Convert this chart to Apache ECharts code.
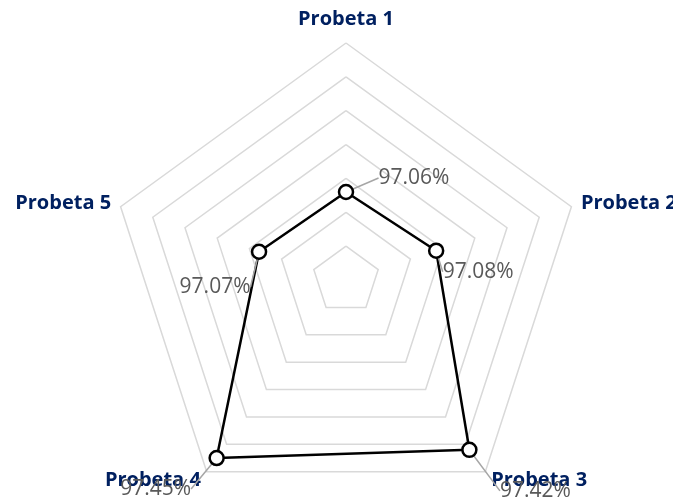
<!DOCTYPE html>
<html>
<head>
<meta charset="utf-8">
<script src="https://cdn.jsdelivr.net/npm/echarts@6/dist/echarts.min.js"></script>
<style>
  html, body { margin: 0; padding: 0; background: #fff; }
  #chart { width: 673px; height: 500px; }
</style>
</head>
<body>
<div id="chart"></div>
<script>
// datos
var categories = ['Probeta 1', 'Probeta 2', 'Probeta 3', 'Probeta 4', 'Probeta 5']
var values = [97.06, 97.08, 97.42, 97.45, 97.07]
var axisMin = 96.8
var axisMax = 97.5

// desplazamiento de etiquetas [dx, dy] respecto al punto
var labelShift = [[68, -14], [42, 21], [66, 41], [-61, 31], [-44, 35]]

// echarts va en sentido antihorario -> reordenar para que quede horario
var order = [0, 4, 3, 2, 1]

var chartDom = document.getElementById('chart')
var myChart = echarts.init(chartDom)

function fmt(v) {
  return v.toFixed(2) + '%'
}

var option = {
  animation: false,
  radar: {
    center: [346, 280],
    radius: 237,
    shape: 'polygon',
    startAngle: 90,
    splitNumber: 7,
    nameGap: 10,
    indicator: order.map(function (i) {
      return { name: categories[i], min: axisMin, max: axisMax }
    }),
    axisName: {
      color: '#002060',
      fontFamily: 'Open Sans',
      fontWeight: 'bold',
      fontSize: 20,
      padding: [0, 0, 4, 0],
      overflow: 'none'
    },
    axisLine: { show: false },
    axisTick: { show: false },
    axisLabel: { show: false },
    splitArea: { show: false },
    splitLine: { lineStyle: { color: '#d9d9d9', width: 1.5 } }
  },
  series: [
    {
      type: 'radar',
      symbol: 'circle',
      symbolSize: 14,
      lineStyle: { color: '#000', width: 2.5 },
      itemStyle: { color: '#fff', borderColor: '#000', borderWidth: 2.5 },
      label: {
        show: true,
        position: 'inside',
        fontFamily: 'Open Sans',
        fontSize: 21,
        color: '#595959',
        formatter: function (p) {
          return fmt(values[order[p.dimensionIndex]])
        }
      },
      labelLine: {
        show: true,
        lineStyle: { color: '#a6a6a6', width: 1.5 }
      },
      labelLayout: function (params) {
        var idx = values.map(fmt).indexOf(params.text)
        if (idx < 0) return {}
        return { dx: labelShift[idx][0], dy: labelShift[idx][1] }
      },
      data: [{ value: order.map(function (i) { return values[i] }) }]
    }
  ]
}

option && myChart.setOption(option)
</script>
</body>
</html>
